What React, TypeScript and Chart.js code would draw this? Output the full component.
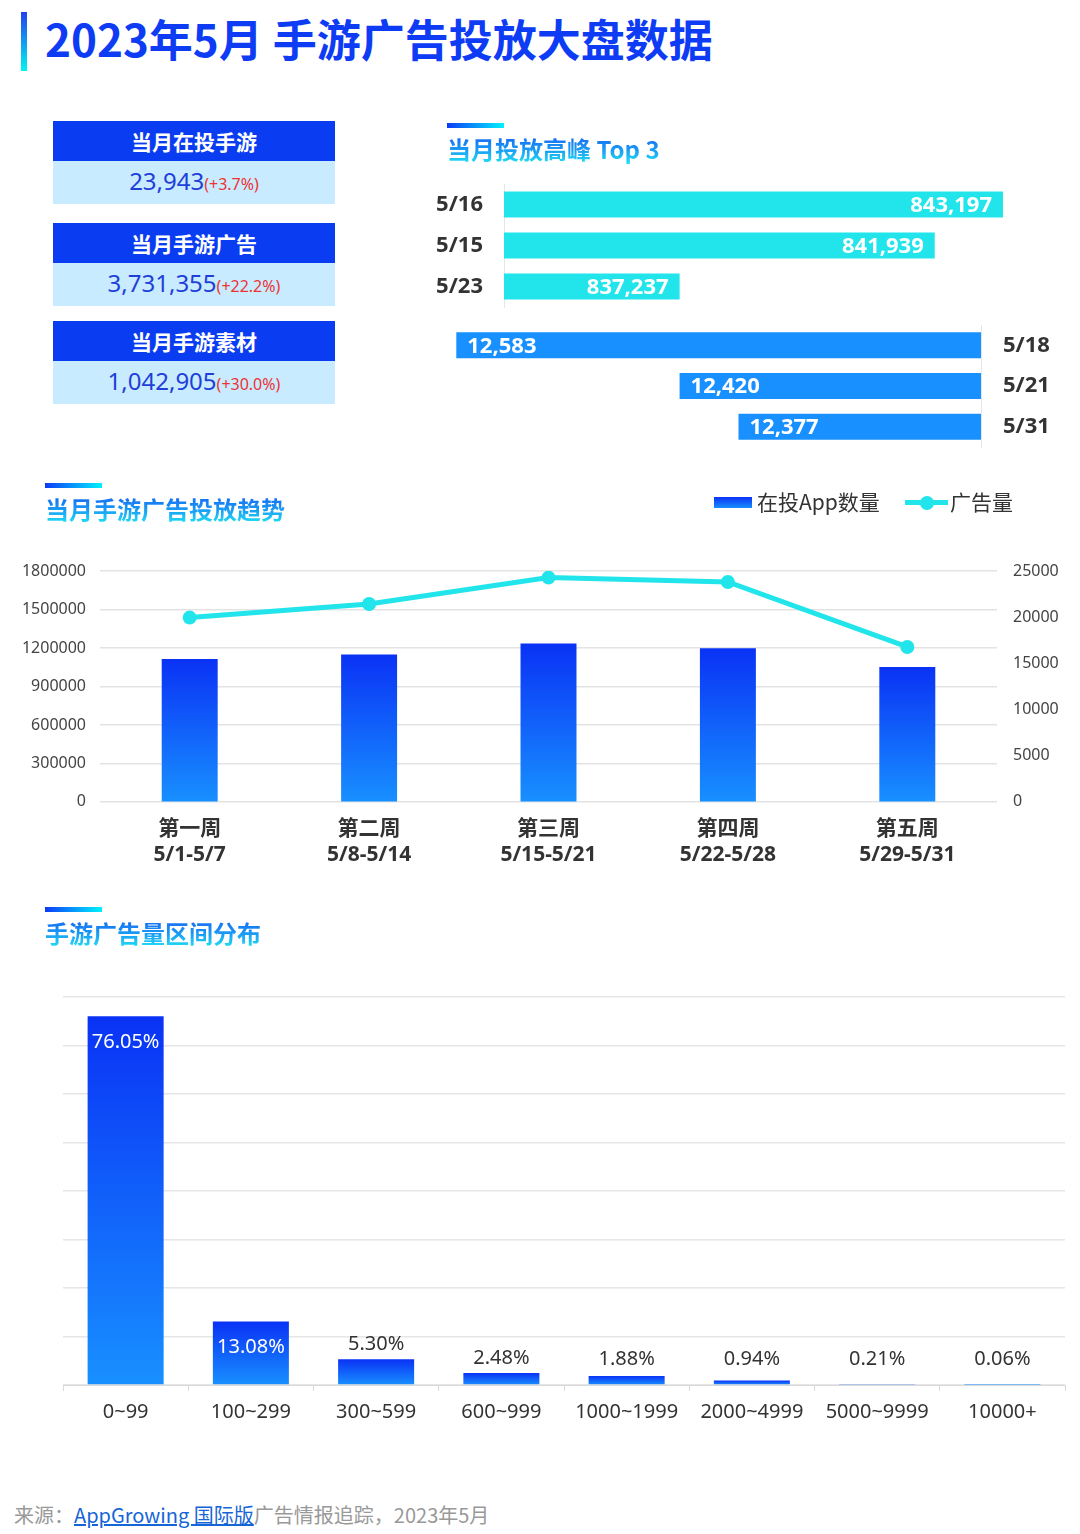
import React, { useEffect, useRef } from 'react';
import { Chart, registerables } from 'chart.js';

Chart.register(...registerables);

// ---------- data ----------
const kpiTitles = ['当月在投手游', '当月手游广告', '当月手游素材'];
const kpiValues = ['23,943', '3,731,355', '1,042,905'];
const kpiChanges = ['(+3.7%)', '(+22.2%)', '(+30.0%)'];

const adPeakDates = ['5/16', '5/15', '5/23'];
const adPeakValues = [843197, 841939, 837237];
const appPeakDates = ['5/18', '5/21', '5/31'];
const appPeakValues = [12583, 12420, 12377];

const weekNames = ['第一周', '第二周', '第三周', '第四周', '第五周'];
const weekRanges = ['5/1-5/7', '5/8-5/14', '5/15-5/21', '5/22-5/28', '5/29-5/31'];
const weeklyApps = [15480, 15950, 17140, 16630, 14610];
const weeklyAds = [1436800, 1543000, 1748600, 1714300, 1207800];

const bucketLabels = ['0~99', '100~299', '300~599', '600~999', '1000~1999', '2000~4999', '5000~9999', '10000+'];
const bucketShares = [76.05, 13.08, 5.3, 2.48, 1.88, 0.94, 0.21, 0.06];

// ---------- styles ----------
const FONT = "'Noto Sans', 'Noto Sans CJK SC', sans-serif";
const CJK = "'Noto Sans CJK SC', 'Noto Sans', sans-serif";
const DARK_BLUE = '#0A32F5';
const LIGHT_BLUE = '#1890FF';
const CYAN = '#22E5EC';
const HEADER_BLUE = '#0A3CF2';

const verticalGradient = (axisId: string) => (c: any) => {
  if (c.type !== 'data') return LIGHT_BLUE;
  const chart = c.chart;
  const scale = chart.scales[axisId];
  if (!scale) return LIGHT_BLUE;
  const top = scale.getPixelForValue(c.raw);
  const bottom = scale.getPixelForValue(0);
  if (!isFinite(top) || !isFinite(bottom) || Math.abs(bottom - top) < 0.5) return LIGHT_BLUE;
  const g = chart.ctx.createLinearGradient(0, top, 0, bottom);
  g.addColorStop(0, DARK_BLUE);
  g.addColorStop(1, LIGHT_BLUE);
  return g;
};

const plainTick = (v: any) => String(v);

const peakLabelPlugin = (align: 'left' | 'right', offset: number) => ({
  id: 'peakLabels',
  afterDatasetsDraw(chart: any) {
    const ctx = chart.ctx;
    const meta = chart.getDatasetMeta(0);
    const values = chart.data.datasets[0].data as number[];
    ctx.save();
    ctx.font = `bold 22px ${FONT}`;
    ctx.fillStyle = '#ffffff';
    ctx.textBaseline = 'middle';
    ctx.textAlign = align;
    meta.data.forEach((el: any, i: number) => {
      const x = align === 'right' ? el.x - offset : el.x + offset;
      ctx.fillText(values[i].toLocaleString('en-US'), x, el.y + 1);
    });
    ctx.restore();
  },
});

const shareLabelPlugin = {
  id: 'shareLabels',
  afterDatasetsDraw(chart: any) {
    const ctx = chart.ctx;
    const meta = chart.getDatasetMeta(0);
    const values = chart.data.datasets[0].data as number[];
    ctx.save();
    ctx.font = `20px ${FONT}`;
    ctx.textBaseline = 'middle';
    ctx.textAlign = 'center';
    meta.data.forEach((el: any, i: number) => {
      const v = values[i];
      const txt = v.toFixed(2) + '%';
      if (v > 10) {
        ctx.fillStyle = '#ffffff';
        ctx.fillText(txt, el.x, el.y + 26);
      } else {
        ctx.fillStyle = '#333333';
        ctx.fillText(txt, el.x, Math.min(el.y - 15, el.base - 25));
      }
    });
    ctx.restore();
  },
};

const abs = (left: number, top: number, extra: React.CSSProperties = {}): React.CSSProperties => ({
  position: 'absolute',
  left,
  top,
  ...extra,
});

const SectionTitle = ({ left, top, text, barWidth }: { left: number; top: number; text: string; barWidth: number }) => (
  <>
    <div
      style={abs(left, top, {
        width: barWidth,
        height: 5,
        background: 'linear-gradient(90deg, #0D3BF5 0%, #00F2FF 100%)',
      })}
    />
    <div
      style={abs(left, top + 11, {
        fontFamily: CJK,
        fontWeight: 700,
        fontSize: 24,
        lineHeight: '30px',
        whiteSpace: 'nowrap',
        background: 'linear-gradient(180deg, #1560F2 0%, #1A9EF4 55%, #22E4F4 100%)',
        WebkitBackgroundClip: 'text',
        backgroundClip: 'text',
        color: 'transparent',
      })}
    >
      {text}
    </div>
  </>
);

export default function App() {
  const adRef = useRef<HTMLCanvasElement>(null);
  const appRef = useRef<HTMLCanvasElement>(null);
  const trendRef = useRef<HTMLCanvasElement>(null);
  const distRef = useRef<HTMLCanvasElement>(null);

  useEffect(() => {
    const charts: Chart[] = [];

    // Top 3 ad peaks
    charts.push(
      new Chart(adRef.current!, {
        type: 'bar',
        data: {
          labels: adPeakDates,
          datasets: [
            {
              data: adPeakValues,
              backgroundColor: CYAN,
              barPercentage: 0.634,
              categoryPercentage: 1,
            },
          ],
        },
        options: {
          indexAxis: 'y',
          animation: false,
          responsive: false,
          maintainAspectRatio: false,
          layout: { padding: { top: 40, bottom: 40, left: 0, right: 0 } },
          plugins: { legend: { display: false }, tooltip: { enabled: false } },
          scales: {
            x: { type: 'linear', display: false, min: 834000, max: 843400, beginAtZero: false },
            y: {
              type: 'category',
              afterFit: (s: any) => {
                s.width = 84;
              },
              grid: { display: false, drawTicks: false },
              border: { display: true, color: '#e6e6e6', width: 1 },
              ticks: { color: '#333333', padding: 21, font: { family: FONT, size: 22, weight: 'bold' } },
            },
          },
        },
        plugins: [peakLabelPlugin('right', 11)],
      } as any)
    );

    // Top 3 app peaks
    charts.push(
      new Chart(appRef.current!, {
        type: 'bar',
        data: {
          labels: appPeakDates,
          datasets: [
            {
              data: appPeakValues,
              backgroundColor: LIGHT_BLUE,
              barPercentage: 0.64,
              categoryPercentage: 1,
            },
          ],
        },
        options: {
          indexAxis: 'y',
          animation: false,
          responsive: false,
          maintainAspectRatio: false,
          layout: { padding: { top: 40, bottom: 40, left: 0, right: 0 } },
          plugins: { legend: { display: false }, tooltip: { enabled: false } },
          scales: {
            x: { type: 'linear', display: false, reverse: true, min: 12200, max: 12600, beginAtZero: false },
            y: {
              type: 'category',
              position: 'right',
              afterFit: (s: any) => {
                s.width = 79;
              },
              grid: { display: false, drawTicks: false },
              border: { display: true, color: '#e6e6e6', width: 1 },
              ticks: { color: '#333333', padding: 22, font: { family: FONT, size: 22, weight: 'bold' } },
            },
          },
        },
        plugins: [peakLabelPlugin('left', 11)],
      } as any)
    );

    // Weekly trend
    charts.push(
      new Chart(trendRef.current!, {
        type: 'bar',
        data: {
          labels: weekNames.map((n, i) => [n, weekRanges[i]]),
          datasets: [
            {
              type: 'line',
              label: '广告量',
              data: weeklyAds,
              yAxisID: 'y',
              borderColor: CYAN,
              backgroundColor: CYAN,
              borderWidth: 5,
              pointRadius: 7,
              pointBackgroundColor: CYAN,
              pointBorderWidth: 0,
              tension: 0,
              order: 0,
            },
            {
              type: 'bar',
              label: '在投App数量',
              data: weeklyApps,
              yAxisID: 'y1',
              backgroundColor: verticalGradient('y1'),
              barPercentage: 0.312,
              categoryPercentage: 1,
              order: 1,
            },
          ],
        },
        options: {
          animation: false,
          responsive: false,
          maintainAspectRatio: false,
          layout: { padding: { top: 40, bottom: 0, left: 0, right: 0 } },
          plugins: { legend: { display: false }, tooltip: { enabled: false } },
          scales: {
            x: {
              grid: { display: false, drawTicks: false },
              border: { display: false },
              ticks: {
                color: '#333333',
                padding: 14,
                font: { family: FONT, size: 21, weight: 'bold', lineHeight: 1.24 },
              },
            },
            y: {
              position: 'left',
              min: 0,
              max: 1800000,
              beginAtZero: true,
              afterFit: (s: any) => {
                s.width = 100;
              },
              grid: { color: '#e3e3e3', lineWidth: 1.5, drawTicks: false },
              border: { display: false },
              ticks: {
                stepSize: 300000,
                padding: 14,
                color: '#444444',
                font: { family: FONT, size: 16 },
                callback: plainTick,
              },
            },
            y1: {
              position: 'right',
              min: 0,
              max: 25000,
              beginAtZero: true,
              afterFit: (s: any) => {
                s.width = 83;
              },
              grid: { drawOnChartArea: false, drawTicks: false },
              border: { display: false },
              ticks: {
                stepSize: 5000,
                padding: 16,
                color: '#444444',
                font: { family: FONT, size: 16 },
                callback: plainTick,
              },
            },
          },
        },
      } as any)
    );

    // Distribution
    charts.push(
      new Chart(distRef.current!, {
        type: 'bar',
        data: {
          labels: bucketLabels,
          datasets: [
            {
              data: bucketShares,
              backgroundColor: verticalGradient('y'),
              barPercentage: 0.607,
              categoryPercentage: 1,
            },
          ],
        },
        options: {
          animation: false,
          responsive: false,
          maintainAspectRatio: false,
          layout: { padding: { top: 10, bottom: 0, left: 0, right: 15 } },
          plugins: { legend: { display: false }, tooltip: { enabled: false } },
          scales: {
            x: {
              grid: { display: true, drawOnChartArea: false, drawTicks: true, tickLength: 6, color: '#d9d9d9', offset: true },
              border: { display: true, color: '#d9d9d9', width: 1 },
              ticks: { color: '#333333', padding: 9, font: { family: FONT, size: 20, lineHeight: 1.2 } },
            },
            y: {
              min: 0,
              max: 80,
              beginAtZero: true,
              afterFit: (s: any) => {
                s.width = 63;
              },
              grid: { color: '#e6e6e6', lineWidth: 1.5, drawTicks: false },
              border: { display: false },
              ticks: { display: false, stepSize: 10 },
            },
          },
        },
        plugins: [shareLabelPlugin],
      } as any)
    );

    return () => charts.forEach((c) => c.destroy());
  }, []);

  const kpiTops = [121, 223, 321];

  return (
    <div
      style={{
        position: 'absolute',
        left: 0,
        top: 0,
        width: 1080,
        height: 1534,
        overflow: 'hidden',
        background: '#ffffff',
        fontFamily: FONT,
      }}
    >
      <style>{'html,body{margin:0;padding:0;overflow:hidden;background:#fff}'}</style>

      {/* main title */}
      <div
        style={abs(21, 12, {
          width: 6,
          height: 59,
          background: 'linear-gradient(180deg, #2340EE 0%, #00F5F0 100%)',
        })}
      />
      <div
        style={abs(45, 14, {
          fontFamily: CJK,
          fontWeight: 700,
          fontSize: 44,
          lineHeight: '48px',
          color: '#0E3CF5',
          whiteSpace: 'nowrap',
        })}
      >
        2023年5月 手游广告投放大盘数据
      </div>

      {/* KPI boxes */}
      {kpiTitles.map((t, i) => (
        <div key={t} style={abs(53, kpiTops[i], { width: 282 })}>
          <div
            style={{
              height: 40,
              background: HEADER_BLUE,
              color: '#ffffff',
              fontFamily: CJK,
              fontWeight: 700,
              fontSize: 21,
              lineHeight: '40px',
              textAlign: 'center',
            }}
          >
            {t}
          </div>
          <div
            style={{
              height: 43,
              background: '#C8EBFF',
              textAlign: 'center',
              lineHeight: '40px',
              whiteSpace: 'nowrap',
            }}
          >
            <span style={{ fontFamily: FONT, fontSize: 24, color: '#1F3FD9' }}>{kpiValues[i]}</span>
            <span style={{ fontFamily: FONT, fontSize: 16, color: '#EE3333' }}>{kpiChanges[i]}</span>
          </div>
        </div>
      ))}

      {/* peak section */}
      <SectionTitle left={447} top={123} text="当月投放高峰 Top 3" barWidth={57} />
      <canvas ref={adRef} width={594} height={203} style={abs(420, 143.5, { width: 594, height: 203 })} />
      <canvas ref={appRef} width={627} height={202} style={abs(433, 285, { width: 627, height: 202 })} />

      {/* trend section */}
      <SectionTitle left={45} top={483} text="当月手游广告投放趋势" barWidth={57} />
      <div
        style={abs(714, 497, {
          width: 38,
          height: 11,
          background: `linear-gradient(180deg, ${DARK_BLUE} 0%, ${LIGHT_BLUE} 100%)`,
        })}
      />
      <div style={abs(757, 487, { fontFamily: CJK, fontSize: 21, lineHeight: '28px', color: '#333333', whiteSpace: 'nowrap' })}>
        在投App数量
      </div>
      <div style={abs(905, 500, { width: 43, height: 5, background: CYAN })} />
      <div style={abs(920, 496, { width: 14, height: 14, borderRadius: 7, background: CYAN })} />
      <div style={abs(950, 487, { fontFamily: CJK, fontSize: 21, lineHeight: '28px', color: '#333333', whiteSpace: 'nowrap' })}>
        广告量
      </div>
      <canvas ref={trendRef} width={1080} height={351} style={abs(0, 531, { width: 1080, height: 351 })} />

      {/* distribution section */}
      <SectionTitle left={45} top={907} text="手游广告量区间分布" barWidth={57} />
      <canvas ref={distRef} width={1080} height={446} style={abs(0, 987, { width: 1080, height: 446 })} />

      {/* footer */}
      <div style={abs(14, 1501, { fontFamily: CJK, fontSize: 20, lineHeight: '28px', color: '#999999', whiteSpace: 'nowrap' })}>
        来源：
        <span style={{ color: '#1565D8', textDecoration: 'underline' }}>AppGrowing 国际版</span>
        广告情报追踪，2023年5月
      </div>
    </div>
  );
}
